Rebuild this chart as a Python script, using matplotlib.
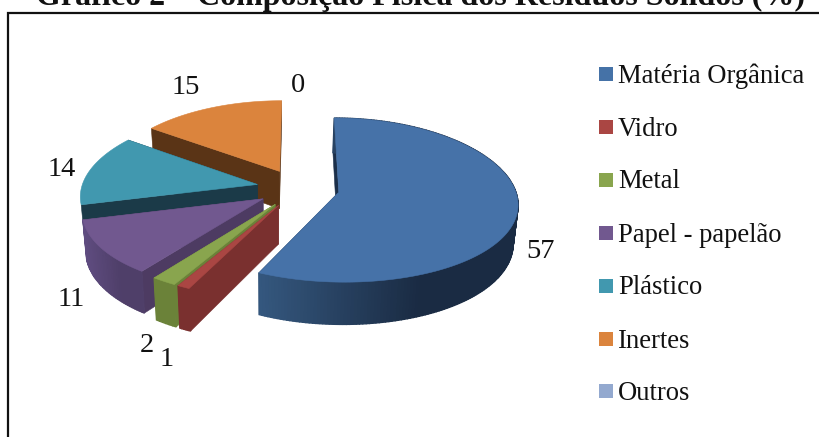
import numpy as np
import matplotlib
matplotlib.use("Agg")
import matplotlib.pyplot as plt
from matplotlib.patches import Polygon, Rectangle
from matplotlib.colors import to_rgb

title = "Gráfico 2 – Composição Física dos Resíduos Sólidos (%)"
categories = ["Matéria Orgânica", "Vidro", "Metal", "Papel - papelão", "Plástico", "Inertes", "Outros"]
values = [57, 1, 2, 11, 14, 15, 0]
top_colors = ["#4672A8", "#AA4643", "#89A54E", "#71588F", "#4198AF", "#DB843D", "#93A9CF"]
legend_colors = ["#4572A7", "#AA4643", "#89A54E", "#71588F", "#4198AF", "#DB843D", "#93A9CF"]
radial_colors = ["#1B2F4A", "#7A302F", "#6B8239", "#4D3B62", "#1B3A48", "#5A3416", "#6A7A95"]
outer_left = ["#35587F", "#7A302F", "#6B8239", "#5F4C80", "#1B3A48", "#5A3416", "#6A7A95"]
outer_right = ["#1A2B43", "#7A302F", "#6B8239", "#4F3F69", "#1B3A48", "#5A3416", "#6A7A95"]
draw_order = [5, 4, 6, 3, 2, 1, 0]
label_xy = [(541, 252), (167, 359), (147, 346), (71, 300), (62, 170), (186, 88), (298, 85)]

CX, CY, A, B, KX, KY, DEPTH, EXPLODE = 298.0, 188.0, 176.0, 80.5, 0.125, 0.096, 38.0, 0.236
VX, VS = 270.0, 0.98
SERIF = "Liberation Serif"

fig = plt.figure(figsize=(8.19, 4.37), dpi=100, facecolor="white")
ax = fig.add_axes([0, 0, 1, 1])
ax.set_xlim(0, 819)
ax.set_ylim(437, 0)
ax.axis("off")


def project(u, v, bottom=False):
    v = np.asarray(v)
    sx = 1.0 / (1.0 - KX * v)
    sy = 1.0 / (1.0 - KY * v)
    x = CX + A * np.asarray(u) * sx
    y = CY + B * v * sy
    if bottom:
        y = y + DEPTH * sy
        x = VX + (x - VX) * VS
    return np.column_stack([x, y])


def mix(c1, c2, t):
    a, b = np.array(to_rgb(c1)), np.array(to_rgb(c2))
    return tuple(a + (b - a) * t)


edges = np.cumsum([0] + values) / sum(values) * 2 * np.pi

for i in draw_order:
    if values[i] <= 0:
        continue
    a0, a1 = edges[i], edges[i + 1]
    mid = (a0 + a1) / 2
    ox, oy = EXPLODE * np.sin(mid), EXPLODE * np.cos(mid)
    th = np.linspace(a0, a1, max(int((a1 - a0) * 60), 6))
    # v grows toward the viewer (down the picture); angle 0 is at the back
    apex_t = project(np.array([ox]), np.array([-oy]))
    apex_b = project(np.array([ox]), np.array([-oy]), True)
    rim_t = project(ox + np.sin(th), -oy - np.cos(th))
    rim_b = project(ox + np.sin(th), -oy - np.cos(th), True)
    # radial walls
    for end in (-1, 0):
        pts = np.vstack([apex_t, rim_t[end], rim_b[end], apex_b])
        ax.add_patch(Polygon(pts, closed=True, fc=radial_colors[i], ec=radial_colors[i], lw=0.4))
    # outer wall, shaded along the arc; slices at the back hide theirs
    if np.cos(mid) < 0.1:
        xs = rim_t[:, 0]
        lo, hi = xs.min(), xs.max()
        for k in range(len(th) - 1):
            t = np.clip((xs[k] - lo) / max(hi - lo, 1) * 1.6, 0, 1)
            col = mix(outer_left[i], outer_right[i], t)
            pts = np.vstack([rim_t[k], rim_t[k + 1], rim_b[k + 1], rim_b[k]])
            ax.add_patch(Polygon(pts, closed=True, fc=col, ec=col, lw=1.0))
    # top face
    pts = np.vstack([apex_t, rim_t])
    ax.add_patch(Polygon(pts, closed=True, fc=top_colors[i], ec=top_colors[i], lw=0.4))

for val, (x, y) in zip(values, label_xy):
    ax.text(x, y, str(val), family=SERIF, fontsize=20.5, ha="center", va="center", color="#111111", zorder=5)

legend_y = [74, 127, 180, 233, 286, 339, 391]
for name, col, y in zip(categories, legend_colors, legend_y):
    ax.add_patch(Rectangle((599, y - 7), 14, 14, fc=col, ec="none", zorder=5))
    ax.text(618, y + 2, name, family=SERIF, fontsize=19.2, ha="left", va="center", color="#111111", zorder=5)

# frame: left and top edges only reach the picture
ax.plot([7.5, 7.5, 819], [437, 12.7, 12.7], color="#111111", lw=1.6, solid_joinstyle="miter", zorder=6)

ax.text(420, 5, title, family=SERIF, weight="bold", fontsize=23, ha="center", va="baseline", color="#111111", zorder=7)

fig.savefig("out.png", dpi=100)
